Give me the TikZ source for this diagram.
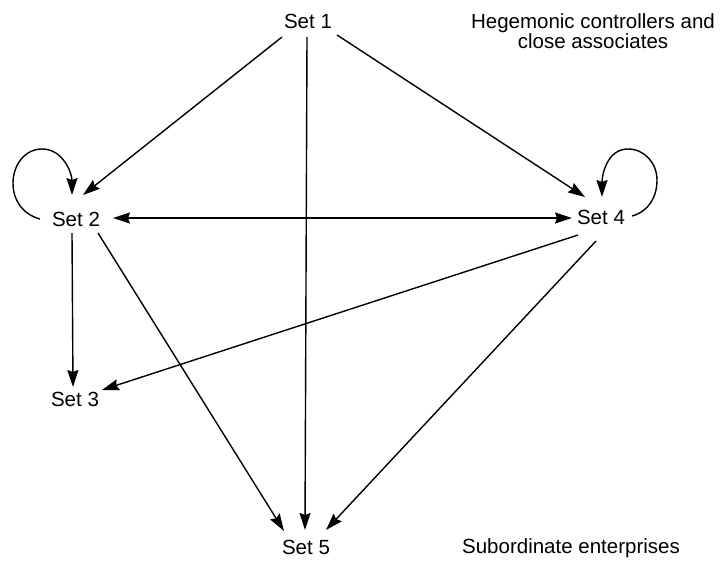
\documentclass[tikz,border=0pt]{standalone}
\usepackage{fontspec}
\setmainfont{Liberation Sans}
\usetikzlibrary{arrows.meta}
\begin{document}
\begin{tikzpicture}[x=1pt,y=-1pt,
  setnode/.style={inner sep=0pt,font=\fontsize{20.5}{20}\selectfont},
  lbl/.style={inner sep=0pt,align=center,font=\fontsize{20.5}{20}\selectfont},
  conn/.style={line width=1.4pt,-{Stealth[length=17pt,width=11pt,inset=2pt]}},
  biconn/.style={line width=1.4pt,{Stealth[length=17pt,width=11pt,inset=2pt]}-{Stealth[length=17pt,width=11pt,inset=2pt]}}]
\useasboundingbox (0,0) rectangle (723,560);
\node[setnode] (s1) at (308,21) {Set 1};
\node[setnode] (s2) at (76,219) {Set 2};
\node[setnode] (s3) at (75,399) {Set 3};
\node[setnode] (s4) at (601,217) {Set 4};
\node[setnode] (s5) at (306,547) {Set 5};
\node[lbl] (heg) at (593,31) {Hegemonic controllers and\\close associates};
\node[lbl] (sub) at (571,548) {Subordinate enterprises};
% from Set 1
\draw[conn] ([shift={(-26,16)}]s1.center) -- ([shift={(7,-24)}]s2.center);
\draw[conn] ([shift={(-1,16)}]s1.center) -- ([shift={(-1,-17)}]s5.center);
\draw[conn] ([shift={(29,14)}]s1.center) -- ([shift={(-16,-20)}]s4.center);
% Set 2 <-> Set 4
\draw[biconn] ([shift={(37,-1)}]s2.center) -- ([shift={(-29,1)}]s4.center);
% from Set 2
\draw[conn] ([shift={(-4,14)}]s2.center) -- ([shift={(-2,-12)}]s3.center);
\draw[conn] ([shift={(22,14)}]s2.center) -- ([shift={(-22,-16)}]s5.center);
% from Set 4
\draw[conn] ([shift={(-23,18)}]s4.center) -- ([shift={(27,-9)}]s3.center);
\draw[conn] ([shift={(-5,24)}]s4.center) -- ([shift={(20,-17)}]s5.center);
% loops
\draw[conn] ([shift={(-36,0)}]s2.center) to[out=165,in=270] (13,183)
  to[out=90,in=180] (42,149) to[out=0,in=90] ([shift={(-4,-24)}]s2.center);
\draw[conn] ([shift={(31,-1)}]s4.center) to[out=15,in=270] (657,180)
  to[out=90,in=0] (628,149) to[out=180,in=90] ([shift={(1,-20)}]s4.center);
\end{tikzpicture}
\end{document}
